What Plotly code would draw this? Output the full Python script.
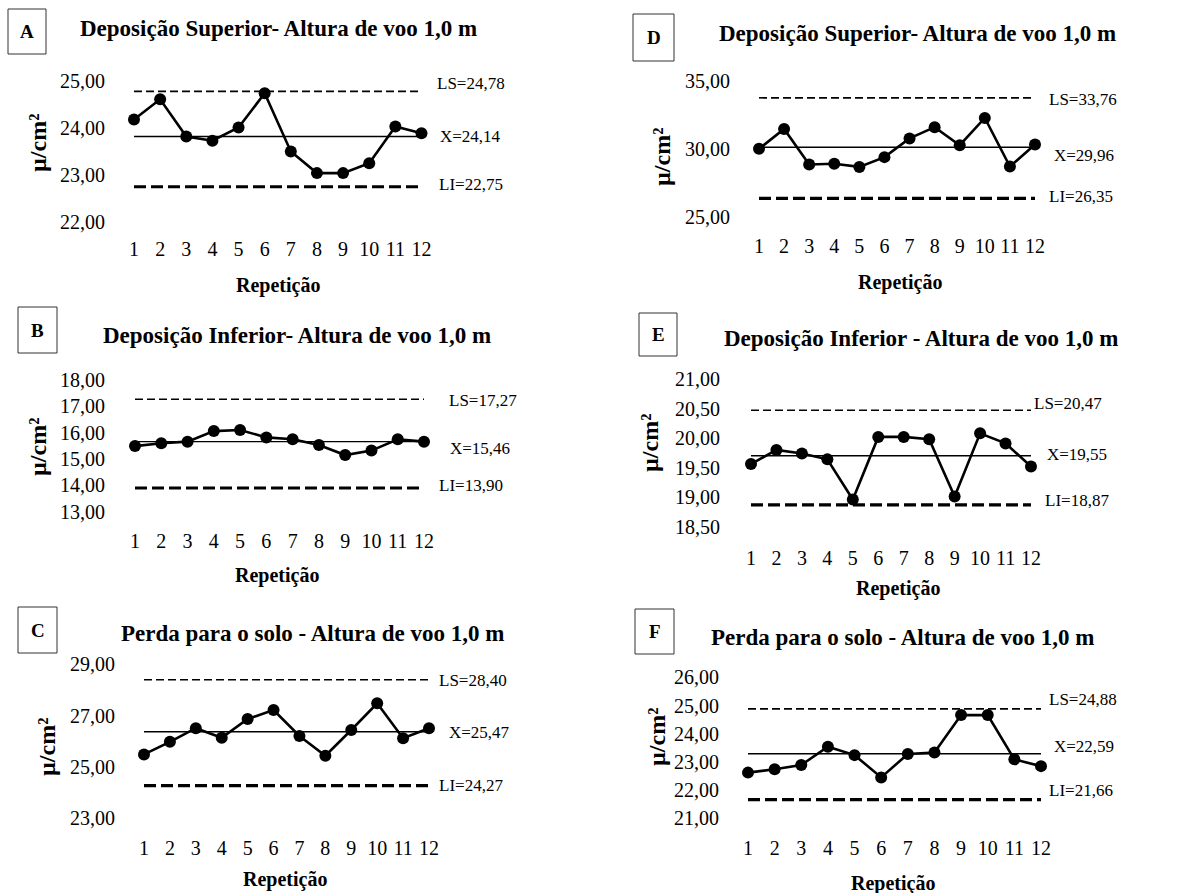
import plotly.graph_objects as go

W, H = 1197, 893

# ---------------- data ----------------
repeticao = list(range(1, 13))
x_tick_labels = [str(i) for i in repeticao]

panel_letters = ["A", "B", "C", "D", "E", "F"]
titles = [
    "Deposição Superior- Altura de voo 1,0 m",
    "Deposição Inferior- Altura de voo 1,0 m",
    "Perda para o solo - Altura de voo 1,0 m",
    "Deposição Superior- Altura de voo 1,0 m",
    "Deposição Inferior - Altura de voo 1,0 m",
    "Perda para o solo - Altura de voo 1,0 m",
]

vals_A = [24.18, 24.61, 23.82, 23.73, 24.01, 24.74, 23.50, 23.04, 23.04, 23.25, 24.03, 23.89]
vals_B = [15.49, 15.60, 15.66, 16.06, 16.10, 15.82, 15.75, 15.53, 15.15, 15.32, 15.75, 15.66]
vals_C = [25.49, 25.98, 26.51, 26.14, 26.87, 27.22, 26.21, 25.44, 26.44, 27.48, 26.12, 26.51]
vals_D = [30.00, 31.47, 28.85, 28.90, 28.67, 29.39, 30.77, 31.60, 30.27, 32.28, 28.70, 30.32]
vals_E = [19.56, 19.80, 19.74, 19.64, 18.96, 20.02, 20.02, 19.98, 19.01, 20.08, 19.91, 19.52]
vals_F = [22.62, 22.74, 22.89, 23.54, 23.24, 22.45, 23.28, 23.33, 24.66, 24.66, 23.09, 22.85]

# upper limit, drawn centre line, lower limit
ls_vals = [24.78, 17.27, 28.40, 33.76, 20.47, 24.88]
center_vals = [23.82, 15.66, 26.37, 30.12, 19.70, 23.29]
li_vals = [22.75, 13.90, 24.27, 26.35, 18.87, 21.66]

ls_labels = ["LS=24,78", "LS=17,27", "LS=28,40", "LS=33,76", "LS=20,47", "LS=24,88"]
x_labels = ["X=24,14", "X=15,46", "X=25,47", "X=29,96", "X=19,55", "X=22,59"]
li_labels = ["LI=22,75", "LI=13,90", "LI=24,27", "LI=26,35", "LI=18,87", "LI=21,66"]

y_tick_vals = [
    [22, 23, 24, 25],
    [13, 14, 15, 16, 17, 18],
    [23, 25, 27, 29],
    [25, 30, 35],
    [18.5, 19, 19.5, 20, 20.5, 21],
    [21, 22, 23, 24, 25, 26],
]
series_values = [vals_A, vals_B, vals_C, vals_D, vals_E, vals_F]

# ---------------- layout geometry (pixels) ----------------
geo = [
    dict(x1=134, x12=421.5, ya=(25, 81), yb=(22, 222), ytr=103, xty=248,
         title=(278, 28), box=(8, 9, 46, 54), rep=(278, 285), ytit=(38, 143),
         ls=(435, 83), xl=(438, 137), li=(437, 185)),
    dict(x1=135, x12=424, ya=(18, 380), yb=(13, 511.7), ytr=103, xty=540,
         title=(297, 335), box=(18, 307, 57, 353), rep=(277, 575), ytit=(38, 447),
         ls=(447, 400), xl=(448, 448), li=(437, 485)),
    dict(x1=144, x12=429, ya=(29, 664.3), yb=(23, 818.3), ytr=113, xty=847,
         title=(312, 633), box=(18, 607, 57, 653), rep=(285, 879), ytit=(47, 747),
         ls=(437, 680), xl=(447, 732), li=(437, 785)),
    dict(x1=759, x12=1035, ya=(35, 81), yb=(25, 216.7), ytr=728, xty=245,
         title=(917, 33), box=(633, 14, 674, 61), rep=(900, 282), ytit=(662, 157),
         ls=(1047, 100), xl=(1052, 155), li=(1047, 197)),
    dict(x1=751, x12=1031, ya=(21, 379), yb=(18.5, 526.7), ytr=718, xty=557,
         title=(921, 338), box=(639, 313, 677, 356), rep=(898, 588), ytit=(650, 443),
         ls=(1032, 403), xl=(1045, 454), li=(1043, 500)),
    dict(x1=748, x12=1041, ya=(26, 677.3), yb=(21, 818.3), ytr=717, xty=847,
         title=(902, 637), box=(635, 609, 674, 654), rep=(893, 883), ytit=(657, 737),
         ls=(1047, 699), xl=(1052, 746), li=(1047, 790)),
]

FONT = "Liberation Serif"


def fx(p):
    return p / W


def fy(p):
    return 1 - p / H


fig = go.Figure()
annotations = []
shapes = []

for i in range(6):
    g = geo[i]
    n = i + 1
    xa = "x" if n == 1 else f"x{n}"
    ya_ = "y" if n == 1 else f"y{n}"

    sx = (g["x12"] - g["x1"]) / 11.0
    left_px = g["ytr"] + 3
    right_px = g["x12"] + 15
    xmin = 1 - (g["x1"] - left_px) / sx
    xmax = 12 + (right_px - g["x12"]) / sx

    (v1, p1), (v2, p2) = g["ya"], g["yb"]
    sy = (p2 - p1) / (v1 - v2)
    bottom_px = g["xty"] - 13
    top_px = p1 - 12
    ymin = v2 - (bottom_px - p2) / sy
    ymax = v1 + (p1 - top_px) / sy

    xs = repeticao
    # limit lines
    fig.add_trace(go.Scatter(x=xs, y=[ls_vals[i]] * 12, mode="lines", xaxis=xa, yaxis=ya_,
                             line=dict(color="black", width=1.6, dash="8px,4px"), hoverinfo="skip"))
    fig.add_trace(go.Scatter(x=xs, y=[li_vals[i]] * 12, mode="lines", xaxis=xa, yaxis=ya_,
                             line=dict(color="black", width=3.2, dash="12px,5px"), hoverinfo="skip"))
    fig.add_trace(go.Scatter(x=xs, y=[center_vals[i]] * 12, mode="lines", xaxis=xa, yaxis=ya_,
                             line=dict(color="black", width=1.4), hoverinfo="skip"))
    fig.add_trace(go.Scatter(x=xs, y=series_values[i], mode="lines+markers", xaxis=xa, yaxis=ya_,
                             line=dict(color="black", width=2.6),
                             marker=dict(color="black", size=12), cliponaxis=False))

    fig.update_layout(**{
        ("xaxis" if n == 1 else f"xaxis{n}"): dict(
            domain=[fx(left_px), fx(right_px)], range=[xmin, xmax], anchor=ya_,
            showgrid=False, zeroline=False, showline=False, ticks="",
            tickmode="array", tickvals=repeticao, ticktext=x_tick_labels,
            tickfont=dict(family=FONT, size=20, color="black")),
        ("yaxis" if n == 1 else f"yaxis{n}"): dict(
            domain=[fy(bottom_px), fy(top_px)], range=[ymin, ymax], anchor=xa,
            showgrid=False, zeroline=False, showline=False, ticks="",
            tickmode="array", tickvals=y_tick_vals[i], tickformat=".2f",
            tickfont=dict(family=FONT, size=20, color="black")),
    })

    # title
    annotations.append(dict(x=fx(g["title"][0]), y=fy(g["title"][1]), xref="paper", yref="paper",
                            text=f"<b>{titles[i]}</b>", showarrow=False, xanchor="center", yanchor="middle",
                            font=dict(family=FONT, size=23, color="black")))
    # letter box
    bx0, by0, bx1, by1 = g["box"]
    shapes.append(dict(type="rect", xref="paper", yref="paper", x0=fx(bx0), x1=fx(bx1),
                       y0=fy(by1), y1=fy(by0), line=dict(color="#333333", width=1)))
    annotations.append(dict(x=fx((bx0 + bx1) / 2), y=fy((by0 + by1) / 2), xref="paper", yref="paper",
                            text=f"<b>{panel_letters[i]}</b>", showarrow=False,
                            xanchor="center", yanchor="middle",
                            font=dict(family=FONT, size=19, color="black")))
    # x title
    annotations.append(dict(x=fx(g["rep"][0]), y=fy(g["rep"][1]), xref="paper", yref="paper",
                            text="<b>Repetição</b>", showarrow=False, xanchor="center", yanchor="middle",
                            font=dict(family=FONT, size=20, color="black")))
    # y title
    annotations.append(dict(x=fx(g["ytit"][0]), y=fy(g["ytit"][1]), xref="paper", yref="paper",
                            text="<b>µ/cm²</b>", showarrow=False, xanchor="center", yanchor="middle",
                            textangle=-90, font=dict(family=FONT, size=24, color="black")))
    # limit labels
    for key, txt in (("ls", ls_labels[i]), ("xl", x_labels[i]), ("li", li_labels[i])):
        annotations.append(dict(x=fx(g[key][0]), y=fy(g[key][1]), xref="paper", yref="paper",
                                text=txt, showarrow=False, xanchor="left", yanchor="middle",
                                font=dict(family=FONT, size=17, color="black")))

fig.update_layout(
    width=W, height=H, margin=dict(l=0, r=0, t=0, b=0),
    paper_bgcolor="white", plot_bgcolor="white", showlegend=False,
    separators=",.", annotations=annotations, shapes=shapes,
)

fig.write_html("out.html", config={"displayModeBar": False},
               post_script="document.body.style.margin='0';document.body.style.overflow='hidden';")
